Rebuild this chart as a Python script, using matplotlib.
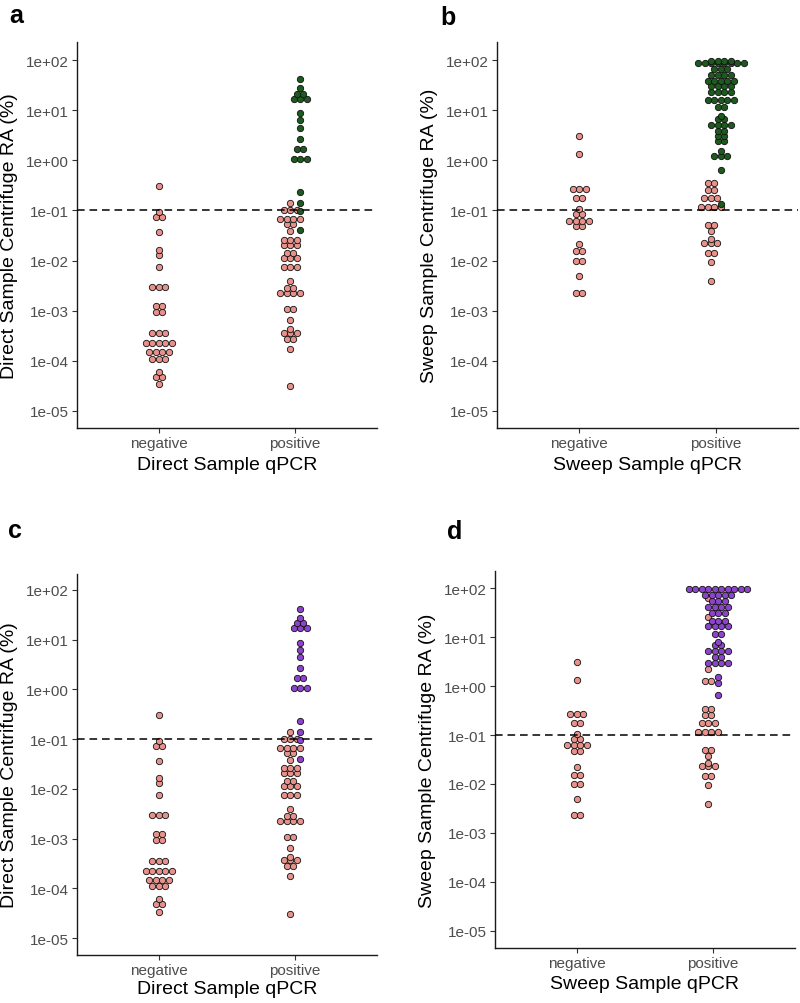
import numpy as np
import matplotlib
matplotlib.use("Agg")
import matplotlib.pyplot as plt
from matplotlib.ticker import FixedLocator, NullLocator

plt.rcParams.update({
    "font.family": ["Liberation Sans", "DejaVu Sans"],
    "lines.scale_dashes": False,
})

# ---- data: log10(RA %) per dot ----
CATS = ["negative", "positive"]

# direct sample (panels a, c)
direct_neg = [-0.52, -1.04, -1.13, -1.13, -1.43, -1.78, -1.89, -2.12,
              -2.52, -2.52, -2.52, -2.91, -2.91, -3.03, -3.03,
              -3.45, -3.45, -3.45, -3.65, -3.65, -3.65, -3.65, -3.65,
              -3.83, -3.83, -3.83, -3.83, -3.96, -3.96, -3.96,
              -4.22, -4.32, -4.32, -4.47]
direct_pos_low = [-0.85, -1.00, -1.00, -1.00, -1.17, -1.17, -1.17, -1.17,
                  -1.27, -1.27, -1.41, -1.59, -1.59, -1.59, -1.69, -1.69, -1.69,
                  -1.84, -1.84, -1.94, -1.94, -1.94, -2.12, -2.12, -2.12,
                  -2.41, -2.55, -2.55, -2.65, -2.65, -2.65, -2.65,
                  -2.97, -2.97, -3.19, -3.37, -3.44, -3.44, -3.44,
                  -3.56, -3.56, -3.76, -4.51]
direct_pos_high = [1.62, 1.44, 1.33, 1.33, 1.23, 1.23, 1.23, 0.94, 0.80, 0.65,
                   0.43, 0.23, 0.23, 0.02, 0.02, 0.02, -0.64, -0.85, -1.01, -1.40]

# sweep sample (panels b, d)
sweep_neg = [0.49, 0.13, -0.58, -0.58, -0.58, -0.76, -0.76, -0.98,
             -1.08, -1.08, -1.21, -1.21, -1.21, -1.21, -1.32, -1.32,
             -1.66, -1.81, -1.81, -2.00, -2.00, -2.31, -2.64, -2.64]
sweep_pos_low_b = [-0.46, -0.46, -0.59, -0.59, -0.76, -0.76, -0.76,
                   -0.93, -0.93, -0.93, -0.93, -1.30, -1.30, -1.42, -1.57,
                   -1.64, -1.64, -1.64, -1.84, -1.84, -2.03, -2.40]
sweep_pos_high_b = [1.99, 1.99, 1.99, 1.99] + [1.94] * 8 + [1.82] * 3 + [1.70] * 4 + \
                   [1.59] * 5 + [1.48] * 4 + [1.36] * 4 + [1.21] * 5 + [1.06] * 2 + \
                   [0.89, 0.82, 0.82] + [0.70] * 4 + [0.59, 0.59, 0.49, 0.49, 0.39, 0.39] + \
                   [0.19, 0.09, 0.09, 0.09, -0.19, -0.87]
sweep_pos_low_d = [1.80, 1.41, 0.34, 0.10, 0.10] + sweep_pos_low_b
sweep_pos_high_d = [1.98] * 10 + [1.87] * 5 + [1.73] * 3 + [1.61] * 4 + [1.50] * 3 + \
                   [1.32] * 3 + [1.22] * 4 + [1.07] * 2 + [0.90, 0.83, 0.83] + \
                   [0.71] * 4 + [0.59] * 2 + [0.48] * 4 + [0.18, 0.06, -0.19]

THRESH = 0.1

# ---- style ----
PINK, GREEN, PURPLE = "#E8918A", "#1C5A1E", "#8C44CC"
EDGE = "#111111"
TICK_C, LBL_C = "#333333", "#4D4D4D"
DOT_S, DOT_LW = 21, 0.6
AX_PX = 300.0
STEP = 6.5 * 2.2 / AX_PX     # dot spacing in data units
DODGE = 5.0 * 2.2 / AX_PX

W, H = 800, 1004
fig = plt.figure(figsize=(W / 100, H / 100), dpi=100)


def stack(ax, vals, center, color):
    vals = np.asarray(vals, float)
    xs, ys = [], []
    for v in np.unique(vals):
        n = int(np.sum(vals == v))
        xs.extend(center + (np.arange(n) - (n - 1) / 2) * STEP)
        ys.extend([10 ** v] * n)
    ax.scatter(xs, ys, s=DOT_S, c=color, edgecolors=EDGE, linewidths=DOT_LW, zorder=3)


def panel(box, letter, lpos, ylim, neg, low, high, hcolor, ylabel, xlabel, xl_off):
    l, t, r, b = box
    ax = fig.add_axes([l / W, 1 - b / H, (r - l) / W, (b - t) / H])
    stack(ax, neg, 0, PINK)
    stack(ax, low, 1 - DODGE, PINK)
    stack(ax, high, 1 + DODGE, hcolor)
    ax.axhline(THRESH, color="black", lw=1.1, dashes=(5.5, 3.5), zorder=4)
    ax.set_yscale("log")
    ax.set_ylim(10 ** ylim[0], 10 ** ylim[1])
    ax.set_xlim(-0.6, 1.6)
    ex = list(range(-5, 3))
    ax.yaxis.set_major_locator(FixedLocator([10.0 ** k for k in ex]))
    ax.yaxis.set_minor_locator(NullLocator())
    ax.set_yticklabels([f"1e{k:+03d}" for k in ex])
    ax.set_xticks([0, 1])
    ax.set_xticklabels(CATS)
    ax.tick_params(length=3.5, width=0.8, color=TICK_C, labelcolor=LBL_C,
                   labelsize=11, pad=2.5)
    for sp in ("top", "right"):
        ax.spines[sp].set_visible(False)
    for sp in ("left", "bottom"):
        ax.spines[sp].set_linewidth(1.0)
        ax.spines[sp].set_color("#1a1a1a")
    fig.text((l - 67) / W, 1 - (t + b) / 2 / H, ylabel, rotation=90,
             ha="center", va="center", fontsize=14, color="black")
    fig.text((l + r) / 2 / W, 1 - (b + xl_off) / H, xlabel,
             ha="center", va="center", fontsize=14, color="black")
    fig.text(lpos[0] / W, 1 - lpos[1] / H, letter, ha="center", va="center",
             fontsize=18, fontweight="bold")
    return ax


panel((77, 43, 377, 429), "a", (16, 16), (-5.34, 2.36), direct_neg, direct_pos_low,
      direct_pos_high, GREEN, "Direct Sample Centrifuge RA (%)", "Direct Sample qPCR", 37)
panel((497, 43, 798, 429), "b", (448, 18), (-5.34, 2.36), sweep_neg, sweep_pos_low_b,
      sweep_pos_high_b, GREEN, "Sweep Sample Centrifuge RA (%)", "Sweep Sample qPCR", 37)
panel((77, 575, 377, 956), "c", (15, 531), (-5.34, 2.32), direct_neg, direct_pos_low,
      direct_pos_high, PURPLE, "Direct Sample Centrifuge RA (%)", "Direct Sample qPCR", 34)
panel((495, 572, 795, 949), "d", (455, 532), (-5.35, 2.35), sweep_neg, sweep_pos_low_d,
      sweep_pos_high_d, PURPLE, "Sweep Sample Centrifuge RA (%)", "Sweep Sample qPCR", 36)

fig.savefig("out.png", dpi=100, facecolor="white")
